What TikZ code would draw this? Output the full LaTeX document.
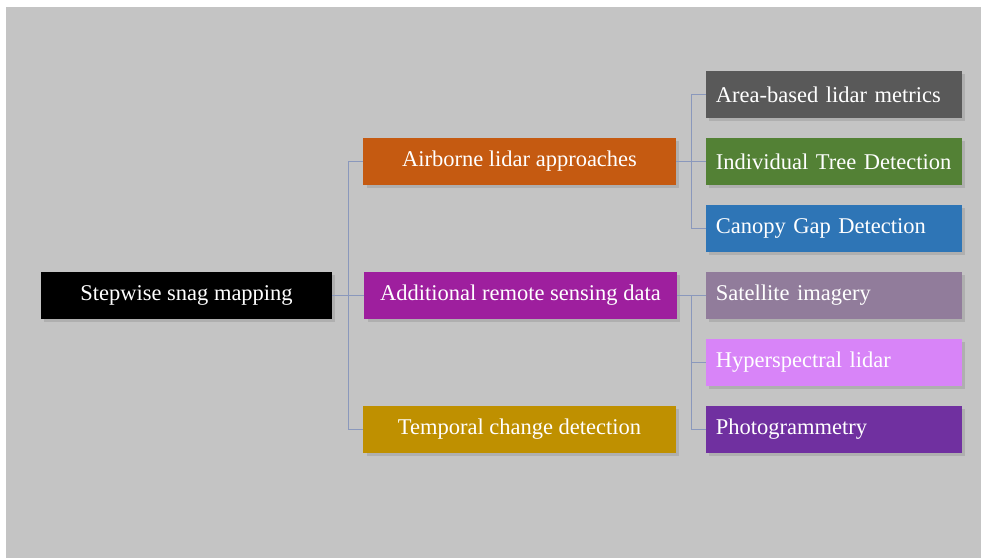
\documentclass[tikz,border=0pt]{standalone}
\usepackage{fontspec}
\setmainfont{Liberation Serif}
\usetikzlibrary{shadows}
\definecolor{bggray}{HTML}{C4C4C4}
\definecolor{linkblue}{HTML}{8A98BC}
\definecolor{airorange}{HTML}{C55A11}
\definecolor{addmagenta}{HTML}{9E1F9E}
\definecolor{tempgold}{HTML}{BF9000}
\definecolor{areagray}{HTML}{595959}
\definecolor{indgreen}{HTML}{538135}
\definecolor{canblue}{HTML}{2E75B6}
\definecolor{satmauve}{HTML}{917C9B}
\definecolor{hyppink}{HTML}{D884F8}
\definecolor{phopurple}{HTML}{7030A0}
\tikzset{
  box/.style={rectangle, text=white, minimum height=1.175cm, inner sep=0pt,
              font=\fontsize{16}{19}\selectfont,
              drop shadow={shadow xshift=0.08cm, shadow yshift=-0.08cm, opacity=0.3}},
  midbox/.style={box, minimum width=7.8cm},
  leafbox/.style={box, minimum width=6.4cm, text width=5.9cm, align=left},
  link/.style={draw=linkblue, line width=0.6pt}
}
\begin{document}
\begin{tikzpicture}[x=0.025cm, y=-0.025cm]
  \fill[white] (0,0) rectangle (981,558);
  \fill[bggray] (6,7) rectangle (981,558);

  % root
  \node[box, fill=black, minimum width=7.275cm] (root) at (186.5,295.5) {Stepwise snag mapping};

  % middle column
  \node[midbox, fill=airorange]  (air)  at (519.5,161.5) {Airborne lidar approaches};
  \node[midbox, fill=addmagenta] (add)  at (520.5,295.5) {Additional remote sensing data};
  \node[midbox, fill=tempgold]   (temp) at (519.5,429.5) {Temporal change detection};

  % right column
  \node[leafbox, fill=areagray]  (area) at (834,94.5)  {Area-based lidar metrics};
  \node[leafbox, fill=indgreen]  (ind)  at (834,161.5) {Individual Tree Detection};
  \node[leafbox, fill=canblue]   (can)  at (834,228.5) {Canopy Gap Detection};
  \node[leafbox, fill=satmauve]  (sat)  at (834,295.5) {Satellite imagery};
  \node[leafbox, fill=hyppink]   (hyp)  at (834,362.5) {Hyperspectral lidar};
  \node[leafbox, fill=phopurple] (pho)  at (834,429.5) {Photogrammetry};

  % branch points
  \coordinate (s1) at (348,295.5);
  \coordinate (s2) at (691,161.5);
  \coordinate (s3) at (691,295.5);

  % from root
  \draw[link] (root.east) -- (s1);
  \draw[link] (air.west) -| (s1);
  \draw[link] (add.west) -- (s1);
  \draw[link] (temp.west) -| (s1);

  % from airborne lidar
  \draw[link] (air.east) -- (s2);
  \draw[link] (area.west) -| (s2);
  \draw[link] (ind.west) -- (s2);
  \draw[link] (can.west) -| (s2);

  % from additional data
  \draw[link] (add.east) -- (s3);
  \draw[link] (sat.west) -- (s3);
  \draw[link] (hyp.west) -| (s3);
  \draw[link] (pho.west) -| (s3);
\end{tikzpicture}
\end{document}
